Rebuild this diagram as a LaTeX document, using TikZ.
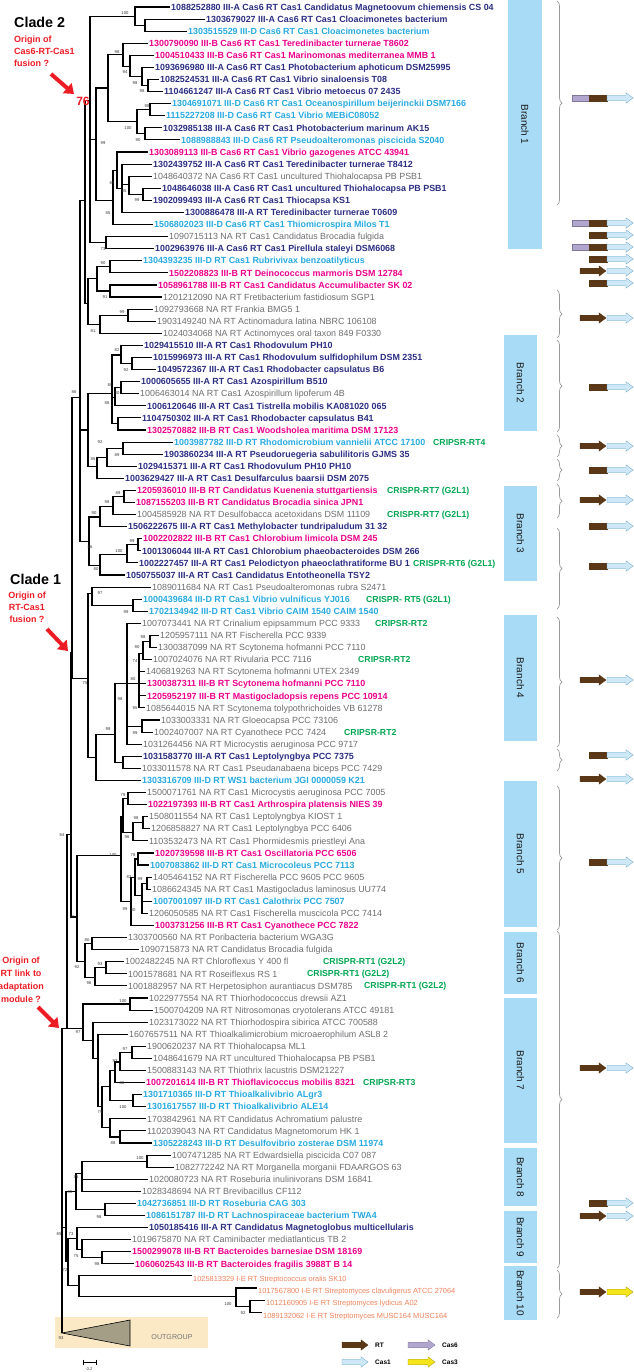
\documentclass[tikz,border=0pt]{standalone}
\usepackage{fontspec}
\setmainfont{Liberation Sans}
\usetikzlibrary{decorations.pathreplacing,arrows.meta}
\definecolor{cA}{HTML}{2B2E83}
\definecolor{cD}{HTML}{27AAE1}
\definecolor{cB}{HTML}{EC008C}
\definecolor{cN}{HTML}{6D6E71}
\definecolor{cE}{HTML}{F0825A}
\definecolor{cG}{HTML}{00A651}
\definecolor{cR}{HTML}{ED1C24}
\definecolor{boxc}{HTML}{A8DBF5}
\definecolor{rtc}{HTML}{5A3716}
\definecolor{csix}{HTML}{B1A7CE}
\definecolor{csixe}{HTML}{7E7699}
\definecolor{cone}{HTML}{CFE8F7}
\definecolor{conee}{HTML}{6FA8CC}
\definecolor{cthree}{HTML}{F5E51B}
\definecolor{cthreee}{HTML}{A89A10}
\definecolor{ogb}{HTML}{FBE9C6}
\definecolor{ogt}{HTML}{A49E86}
\newcounter{bootc}
\newcommand\Leaf[4]{\coordinate (L#1) at ({#2-1.5},{7+(#1-1)*12.085});\node[#3] (T#1) at (L#1) {#4};}
\newcommand\Inode[3]{\coordinate (#1) at (#2,{7+(#3-1)*12.085});}
\newcommand\Edges[2]{\foreach \kid in {#2}{\draw[br] (#1) |- (\kid);}}
\newcommand\Boot[3]{\stepcounter{bootc}\node[bs] (bs\arabic{bootc}) at (#1,#2) {#3};}
\newcommand\Green[3]{\node[lG] (G#1) at (#2,{7+(#1-1)*12.085}) {#3};}
\newcommand\GArr[5]{\filldraw[fill=#4,draw=#5,line width=0.35pt] (#1,#3-2.8) -- (#2-7,#3-2.8) -- (#2-7,#3-5.2) -- (#2,#3) -- (#2-7,#3+5.2) -- (#2-7,#3+2.8) -- (#1,#3+2.8) -- cycle;}
\newcommand\GBar[5]{\filldraw[fill=#4,draw=#5,line width=0.35pt] (#1,#3-2.8) rectangle (#2,#3+2.8);}
\newcommand\RowSix[1]{\GBar{572}{589}{#1}{csix}{csixe}\GBar{589}{607}{#1}{rtc}{rtc}\GArr{607}{633}{#1}{cone}{conee}}
\newcommand\RowF[1]{\GBar{589}{607}{#1}{rtc}{rtc}\GArr{607}{633}{#1}{cone}{conee}}
\newcommand\RowS[1]{\GArr{580}{606}{#1}{rtc}{rtc}\GArr{607}{633}{#1}{cone}{conee}}
\newcommand\Brace[2]{\draw[brc] (557,#1) -- (557,#2);}
\newcommand\BBox[5]{\fill[boxc] (#1,#2) rectangle (#3,#4);\node[brl] (brl#5) at ({(#1+#3)/2},{(#2+#4)/2}) {Branch #5};}
\begin{document}
\begin{tikzpicture}[x=1pt,y=-1pt,
  br/.style={line width=1.1pt},
  lab/.style={anchor=base west,inner sep=0pt,xshift=1.5pt,yshift=-3.2pt,font=\fontsize{8.9}{10}\selectfont},
  lA/.style={lab,text=cA,font=\fontsize{8.9}{10}\selectfont\bfseries},
  lD/.style={lab,text=cD,font=\fontsize{8.9}{10}\selectfont\bfseries},
  lB/.style={lab,text=cB,font=\fontsize{8.9}{10}\selectfont\bfseries},
  lN/.style={lab,text=cN},
  lE/.style={lab,text=cE,yshift=-2.65pt,font=\fontsize{7.4}{9}\selectfont},
  lG/.style={anchor=base west,inner sep=0pt,yshift=-3.1pt,text=cG,font=\fontsize{8.7}{10}\selectfont\bfseries},
  bs/.style={inner sep=0pt,font=\fontsize{4.2}{5}\selectfont,text=black!80},
  brc/.style={draw=black!40,line width=0.7pt,decorate,decoration={brace,amplitude=5pt}},
  brl/.style={rotate=-90,inner sep=0pt,text=black!90,font=\fontsize{10}{12}\selectfont},
  redt/.style={text=cR,font=\fontsize{9}{12}\selectfont\bfseries,inner sep=0pt},
  redar/.style={cR,line width=4pt,-{Triangle[length=9pt,width=13pt]}},
  legt/.style={anchor=west,inner sep=0pt,font=\fontsize{6.5}{8}\selectfont\bfseries}
]
\useasboundingbox (0,0) rectangle (633,1372);

% ---------------- right column: branch boxes, braces, gene arrows
\BBox{508}{0}{542}{249}{1}
\BBox{504}{335}{537}{431}{2}
\BBox{504}{486}{537}{581}{3}
\BBox{504}{615}{537}{741}{4}
\BBox{504}{781}{537}{927}{5}
\BBox{504}{932}{537}{994}{6}
\BBox{504}{998}{537}{1143}{7}
\BBox{504}{1148}{537}{1206}{8}
\BBox{504}{1211}{537}{1263}{9}
\BBox{504}{1266}{537}{1320}{10}

\Brace{1}{205}
\Brace{290}{338}
\Brace{340}{432}
\Brace{435}{457}
\Brace{459}{481}
\Brace{484}{518}
\Brace{528}{609}
\Brace{617}{747}
\Brace{749}{771}
\Brace{786}{930}
\Brace{931}{1268}
\Brace{1270}{1318}

\RowSix{98}
\RowSix{223}
\RowF{235}
\RowSix{247}
\RowF{259}
\RowS{271}
\RowF{283}
\RowS{318}
\RowF{387}
\RowS{446}
\RowF{470}
\RowS{500}
\RowF{526}
\RowF{566}
\RowS{680}
\RowF{755}
\RowS{779}
\RowF{862}
\RowS{1068}
\RowF{1203}
\RowS{1216}
\GArr{580}{606}{1292}{rtc}{rtc}\GArr{607}{633}{1292}{cthree}{cthreee}

% ---------------- leaves
\Leaf{1}{171}{lA}{1088252880 III-A Cas6 RT Cas1 Candidatus Magnetoovum chiemensis CS 04}
\Leaf{2}{206}{lA}{1303679027 III-A Cas6 RT Cas1 Cloacimonetes bacterium}
\Leaf{3}{188}{lD}{1303515529 III-D Cas6 RT Cas1 Cloacimonetes bacterium}
\Leaf{4}{149}{lB}{1300790090 III-B Cas6 RT Cas1 Teredinibacter turnerae T8602}
\Leaf{5}{155}{lB}{1004510433 III-B Cas6 RT Cas1 Marinomonas mediterranea MMB 1}
\Leaf{6}{155}{lA}{1093696980 III-A Cas6 RT Cas1 Photobacterium aphoticum DSM25995}
\Leaf{7}{160}{lA}{1082524531 III-A Cas6 RT Cas1 Vibrio sinaloensis T08}
\Leaf{8}{164}{lA}{1104661247 III-A Cas6 RT Cas1 Vibrio metoecus 07 2435}
\Leaf{9}{172}{lD}{1304691071 III-D Cas6 RT Cas1 Oceanospirillum beijerinckii DSM7166}
\Leaf{10}{166}{lD}{1115227208 III-D Cas6 RT Cas1 Vibrio MEBiC08052}
\Leaf{11}{163}{lA}{1032985138 III-A Cas6 RT Cas1 Photobacterium marinum AK15}
\Leaf{12}{181}{lD}{1088988843 III-D Cas6 RT Pseudoalteromonas piscicida S2040}
\Leaf{13}{149}{lB}{1303089113 III-B Cas6 RT Cas1 Vibrio gazogenes ATCC 43941}
\Leaf{14}{153}{lA}{1302439752 III-A Cas6 RT Cas1 Teredinibacter turnerae T8412}
\Leaf{15}{153}{lN}{1048640372 NA Cas6 RT Cas1 uncultured Thiohalocapsa PB PSB1}
\Leaf{16}{162}{lA}{1048646038 III-A Cas6 RT Cas1 uncultured Thiohalocapsa PB PSB1}
\Leaf{17}{153}{lA}{1902099493 III-A Cas6 RT Cas1 Thiocapsa KS1}
\Leaf{18}{185}{lA}{1300886478 III-A RT Teredinibacter turnerae T0609}
\Leaf{19}{154}{lD}{1506802023 III-D Cas6 RT Cas1 Thiomicrospira Milos T1}
\Leaf{20}{169}{lN}{1090715113 NA RT Cas1 Candidatus Brocadia fulgida}
\Leaf{21}{155}{lA}{1002963976 III-A Cas6 RT Cas1 Pirellula staleyi DSM6068}
\Leaf{22}{143}{lD}{1304393235 III-D RT Cas1 Rubrivivax benzoatilyticus}
\Leaf{23}{169}{lB}{1502208823 III-B RT Deinococcus marmoris DSM 12784}
\Leaf{24}{158}{lB}{1058961788 III-B RT Cas1 Candidatus Accumulibacter SK 02}
\Leaf{25}{163}{lN}{1201212090 NA RT Fretibacterium fastidiosum SGP1}
\Leaf{26}{154}{lN}{1092793668 NA RT Frankia BMG5 1}
\Leaf{27}{157}{lN}{1903149240 NA RT Actinomadura latina NBRC 106108}
\Leaf{28}{163}{lN}{1024034068 NA RT Actinomyces oral taxon 849 F0330}
\Leaf{29}{144}{lA}{1029415510 III-A RT Cas1 Rhodovulum PH10}
\Leaf{30}{153}{lA}{1015996973 III-A RT Cas1 Rhodovulum sulfidophilum DSM 2351}
\Leaf{31}{157}{lA}{1049572367 III-A RT Cas1 Rhodobacter capsulatus B6}
\Leaf{32}{141}{lA}{1000605655 III-A RT Cas1 Azospirillum B510}
\Leaf{33}{140}{lN}{1006463014 NA RT Cas1 Azospirillum lipoferum 4B}
\Leaf{34}{147}{lA}{1006120646 III-A RT Cas1 Tistrella mobilis KA081020 065}
\Leaf{35}{142}{lA}{1104750302 III-A RT Cas1 Rhodobacter capsulatus B41}
\Leaf{36}{147}{lB}{1302570882 III-B RT Cas1 Woodsholea maritima DSM 17123}
\Leaf{37}{174}{lD}{1003987782 III-D RT Rhodomicrobium vannielii ATCC 17100}
\Leaf{38}{164}{lA}{1903860234 III-A RT Pseudoruegeria sabulilitoris GJMS 35}
\Leaf{39}{138}{lA}{1029415371 III-A RT Cas1 Rhodovulum PH10 PH10}
\Leaf{40}{125}{lA}{1003629427 III-A RT Cas1 Desulfarculus baarsii DSM 2075}
\Leaf{41}{137}{lB}{1205936010 III-B RT Candidatus Kuenenia stuttgartiensis}
\Leaf{42}{136}{lB}{1087155203 III-B RT Candidatus Brocadia sinica JPN1}
\Leaf{43}{137}{lN}{1004585928 NA RT Desulfobacca acetoxidans DSM 11109}
\Leaf{44}{128}{lA}{1506222675 III-A RT Cas1 Methylobacter tundripaludum 31 32}
\Leaf{45}{143}{lB}{1002202822 III-B RT Cas1 Chlorobium limicola DSM 245}
\Leaf{46}{142}{lA}{1001306044 III-A RT Cas1 Chlorobium phaeobacteroides DSM 266}
\Leaf{47}{139}{lA}{1002227457 III-A RT Cas1 Pelodictyon phaeoclathratiforme BU 1}
\Leaf{48}{126}{lA}{1050755037 III-A RT Cas1 Candidatus Entotheonella TSY2}
\Leaf{49}{152}{lN}{1089011684 NA RT Cas1 Pseudoalteromonas rubra S2471}
\Leaf{50}{143}{lD}{1000439684 III-D RT Cas1 Vibrio vulnificus YJ016}
\Leaf{51}{149}{lD}{1702134942 III-D RT Cas1 Vibrio CAIM 1540 CAIM 1540}
\Leaf{52}{142}{lN}{1007073441 NA RT Crinalium epipsammum PCC 9333}
\Leaf{53}{160}{lN}{1205957111 NA RT Fischerella PCC 9339}
\Leaf{54}{158}{lN}{1300387099 NA RT Scytonema hofmanni PCC 7110}
\Leaf{55}{153}{lN}{1007024076 NA RT Rivularia PCC 7116}
\Leaf{56}{146}{lN}{1406819263 NA RT Scytonema hofmanni UTEX 2349}
\Leaf{57}{147}{lB}{1300387311 III-B RT Scytonema hofmanni PCC 7110}
\Leaf{58}{147}{lB}{1205952197 III-B RT Mastigocladopsis repens PCC 10914}
\Leaf{59}{146}{lN}{1085644015 NA RT Scytonema tolypothrichoides VB 61278}
\Leaf{60}{161}{lN}{1033003331 NA RT Gloeocapsa PCC 73106}
\Leaf{61}{154}{lN}{1002407007 NA RT Cyanothece PCC 7424}
\Leaf{62}{143}{lN}{1031264456 NA RT Microcystis aeruginosa PCC 9717}
\Leaf{63}{143}{lA}{1031583770 III-A RT Cas1 Leptolyngbya PCC 7375}
\Leaf{64}{142}{lN}{1033011578 NA RT Cas1 Pseudanabaena biceps PCC 7429}
\Leaf{65}{142}{lD}{1303316709 III-D RT WS1 bacterium JGI 0000059 K21}
\Leaf{66}{147}{lN}{1500071761 NA RT Cas1 Microcystis aeruginosa PCC 7005}
\Leaf{67}{148}{lB}{1022197393 III-B RT Cas1 Arthrospira platensis NIES 39}
\Leaf{68}{149}{lN}{1508011554 NA RT Cas1 Leptolyngbya KIOST 1}
\Leaf{69}{151}{lN}{1206858827 NA RT Cas1 Leptolyngbya PCC 6406}
\Leaf{70}{149}{lN}{1103532473 NA RT Cas1 Phormidesmis priestleyi Ana}
\Leaf{71}{155}{lB}{1020739598 III-B RT Cas1 Oscillatoria PCC 6506}
\Leaf{72}{150}{lD}{1007083862 III-D RT Cas1 Microcoleus PCC 7113}
\Leaf{73}{153}{lN}{1405464152 NA RT Fischerella PCC 9605 PCC 9605}
\Leaf{74}{152}{lN}{1086624345 NA RT Cas1 Mastigocladus laminosus UU774}
\Leaf{75}{153}{lD}{1007001097 III-D RT Cas1 Calothrix PCC 7507}
\Leaf{76}{149}{lN}{1206050585 NA RT Cas1 Fischerella muscicola PCC 7414}
\Leaf{77}{155}{lB}{1003731256 III-B RT Cas1 Cyanothece PCC 7822}
\Leaf{78}{128}{lN}{1303700560 NA RT Poribacteria bacterium WGA3G}
\Leaf{79}{140}{lN}{1090715873 NA RT Candidatus Brocadia fulgida}
\Leaf{80}{125}{lN}{1002482245 NA RT Chloroflexus Y 400 fl}
\Leaf{81}{128}{lN}{1001578681 NA RT Roseiflexus RS 1}
\Leaf{82}{128}{lN}{1001882957 NA RT Herpetosiphon aurantiacus DSM785}
\Leaf{83}{149}{lN}{1022977554 NA RT Thiorhodococcus drewsii AZ1}
\Leaf{84}{154}{lN}{1500704209 NA RT Nitrosomonas cryotolerans ATCC 49181}
\Leaf{85}{149}{lN}{1023173022 NA RT Thiorhodospira sibirica ATCC 700588}
\Leaf{86}{129}{lN}{1607657511 NA RT Thioalkalimicrobium microaerophilum ASL8 2}
\Leaf{87}{147}{lN}{1900620237 NA RT Thiohalocapsa ML1}
\Leaf{88}{153}{lN}{1048641679 NA RT uncultured Thiohalocapsa PB PSB1}
\Leaf{89}{147}{lN}{1500883143 NA RT Thiothrix lacustris DSM21227}
\Leaf{90}{146}{lB}{1007201614 III-B RT Thioflavicoccus mobilis 8321}
\Leaf{91}{143}{lD}{1301710365 III-D RT Thioalkalivibrio ALgr3}
\Leaf{92}{147}{lD}{1301617557 III-D RT Thioalkalivibrio ALE14}
\Leaf{93}{147}{lN}{1703842961 NA RT Candidatus Achromatium palustre}
\Leaf{94}{147}{lN}{1102039043 NA RT Candidatus Magnetomorum HK 1}
\Leaf{95}{153}{lD}{1305228243 III-D RT Desulfovibrio zosterae DSM 11974}
\Leaf{96}{172}{lN}{1007471285 NA RT Edwardsiella piscicida C07 087}
\Leaf{97}{175}{lN}{1082772242 NA RT Morganella morganii FDAARGOS 63}
\Leaf{98}{149}{lN}{1020080723 NA RT Roseburia inulinivorans DSM 16841}
\Leaf{99}{142}{lN}{1028348694 NA RT Brevibacillus CF112}
\Leaf{100}{137}{lD}{1042736851 III-D RT Roseburia CAG 303}
\Leaf{101}{146}{lD}{1086151787 III-D RT Lachnospiraceae bacterium TWA4}
\Leaf{102}{149}{lA}{1050185416 III-A RT Candidatus Magnetoglobus multicellularis}
\Leaf{103}{132}{lN}{1019675870 NA RT Caminibacter mediatlanticus TB 2}
\Leaf{104}{132}{lB}{1500299078 III-B RT Bacteroides barnesiae DSM 18169}
\Leaf{105}{135}{lB}{1060602543 III-B RT Bacteroides fragilis 3988T B 14}
\Leaf{106}{193}{lE}{1025813329 I-E RT Streptococcus oralis SK10}
\Leaf{107}{258}{lE}{1017567800 I-E RT Streptomyces clavuligerus ATCC 27064}
\Leaf{108}{266}{lE}{1012160905 I-E RT Streptomyces lydicus A02}
\Leaf{109}{263}{lE}{1089132062 I-E RT Streptomyces MUSC164 MUSC164}

\Green{37}{433}{CRIPSR-RT4}
\Green{41}{387}{CRISPR-RT7 (G2L1)}
\Green{43}{387}{CRISPR-RT7 (G2L1)}
\Green{47}{413}{CRISPR-RT6 (G2L1)}
\Green{50}{366}{CRISPR- RT5 (G2L1)}
\Green{52}{375}{CRIPSR-RT2}
\Green{55}{358}{CRIPSR-RT2}
\Green{61}{344}{CRIPSR-RT2}
\Green{80}{323}{CRISPR-RT1 (G2L2)}
\Green{81}{307}{CRISPR-RT1 (G2L2)}
\Green{82}{364}{CRISPR-RT1 (G2L2)}
\Green{90}{363}{CRIPSR-RT3}

% ---------------- tree: clade 2
\Inode{a}{145}{2.5} \Edges{a}{L2,L3}
\Inode{b}{135}{1.75} \Edges{b}{L1,a}
\Inode{c}{148}{7.5} \Edges{c}{L7,L8}
\Inode{d}{142}{6.75} \Edges{d}{L6,c}
\Inode{e}{130}{5.9} \Edges{e}{L5,d}
\Inode{f}{123}{4.9} \Edges{f}{L4,e}
\Inode{g}{150}{9.5} \Edges{g}{L9,L10}
\Inode{h}{145}{11.5} \Edges{h}{L11,L12}
\Inode{i}{137}{10.5} \Edges{i}{g,h}
\Inode{j}{108}{7.7} \Edges{j}{f,i}
\Inode{l}{143}{16.5} \Edges{l}{L16,L17}
\Inode{m}{129}{15.7} \Edges{m}{L15,l}
\Inode{n}{122}{16} \Edges{n}{L14,m,L18}
\Inode{p}{117}{14.5} \Edges{p}{L13,n}
\Inode{q}{113}{17} \Edges{q}{p,L19}
\Inode{r}{96}{12} \Edges{r}{j,q}
\Inode{s}{106}{20.5} \Edges{s}{L20,L21}
\Inode{C2}{90}{8.7} \Edges{C2}{b,r,s}
% leaves 22-28
\Inode{v}{110}{22.5} \Edges{v}{L22,L23}
\Inode{w}{110}{24.5} \Edges{w}{L24,L25}
\Inode{x1}{97}{23.5} \Edges{x1}{v,w}
\Inode{y1}{128}{26.5} \Edges{y1}{L26,L27}
\Inode{z1}{100}{27.3} \Edges{z1}{y1,L28}
\Inode{aa}{88}{25.5} \Edges{aa}{x1,z1}
\Inode{K1}{85}{17} \Edges{K1}{C2,aa}
% leaves 29-40
\Inode{ff}{132}{30.5} \Edges{ff}{L30,L31}
\Inode{gg}{121}{29.8} \Edges{gg}{L29,ff}
\Inode{hh}{121}{32.5} \Edges{hh}{L32,L33}
\Inode{ii}{115}{33.3} \Edges{ii}{hh,L34}
\Inode{jj}{118}{35.5} \Edges{jj}{L35,L36}
\Inode{kk}{112}{33} \Edges{kk}{gg,ii,jj}
\Inode{cc}{123}{37.5} \Edges{cc}{L37,L38}
\Inode{dd}{107}{38.3} \Edges{dd}{cc,L39}
\Inode{ee}{97}{39} \Edges{ee}{dd,L40}
\Inode{ll}{88}{36} \Edges{ll}{kk,ee}
% leaves 41-48
\Inode{mm}{124}{41.5} \Edges{mm}{L41,L42}
\Inode{nn}{113}{42.3} \Edges{nn}{mm,L43}
\Inode{oo}{100}{43.2} \Edges{oo}{nn,L44}
\Inode{pp}{138}{45.5} \Edges{pp}{L45,L46}
\Inode{qq}{127}{46.3} \Edges{qq}{pp,L47}
\Inode{rr}{100}{47.2} \Edges{rr}{qq,L48}
\Inode{ss}{89}{45.2} \Edges{ss}{oo,rr}
% leaves 49-51
\Inode{tt}{133}{50.5} \Edges{tt}{L50,L51}
\Inode{vv}{92}{49.5} \Edges{vv}{L49,tt}
% cyano 52-65
\Inode{ww}{150}{53.5} \Edges{ww}{L53,L54}
\Inode{xx}{143}{54.5} \Edges{xx}{ww,L55}
\Inode{yy}{139}{57} \Edges{yy}{xx,L56,L57,L58,L59}
\Inode{ab}{142}{60.5} \Edges{ab}{L60,L61}
\Inode{zz}{127}{57} \Edges{zz}{L52,yy,ab,L62}
\Inode{ad}{123}{63.5} \Edges{ad}{L63,L64}
\Inode{ae}{115}{61.2} \Edges{ae}{zz,ad}
\Inode{af}{96}{63.1} \Edges{af}{ae,L65}
\Inode{ag}{88}{56.6} \Edges{ag}{vv,af}
\Inode{K2}{80}{33.3} \Edges{K2}{K1,ll,ss}
\Inode{X3}{72}{54.4} \Edges{X3}{K2,ag}
% cyano 66-77
\Inode{ba}{128}{66.5} \Edges{ba}{L66,L67}
\Inode{bb}{143}{68.5} \Edges{bb}{L68,L69}
\Inode{bc}{133}{69.3} \Edges{bc}{bb,L70}
\Inode{bd}{123}{68} \Edges{bd}{ba,bc}
\Inode{be}{138}{71.5} \Edges{be}{L71,L72}
\Inode{bf}{147}{73.5} \Edges{bf}{L73,L74}
\Inode{bg}{142}{74.5} \Edges{bg}{bf,L75,L76}
\Inode{bi}{135}{73} \Edges{bi}{be,bg}
\Inode{bj}{131}{75} \Edges{bj}{bi,L77}
\Inode{bk}{121}{71.2} \Edges{bk}{bd,bj}
\Inode{bm}{92}{78.5} \Edges{bm}{L78,L79}
\Inode{bn}{106}{80.5} \Edges{bn}{L80,L81}
\Inode{bo}{95}{81.3} \Edges{bo}{bn,L82}
\Inode{bp}{85}{80} \Edges{bp}{bm,bo}
\Inode{bl}{77}{76.3} \Edges{bl}{bk,bp}
\Inode{X2}{71}{69.5} \Edges{X2}{X3,bl}
% thio group
\Inode{ca}{130}{83.5} \Edges{ca}{L83,L84}
\Inode{cd}{132}{87.5} \Edges{cd}{L87,L88}
\Inode{ce}{120}{88.3} \Edges{ce}{cd,L89}
\Inode{cf}{115}{89} \Edges{cf}{ce,L90}
\Inode{cg}{133}{91.5} \Edges{cg}{L91,L92}
\Inode{ch}{110}{90.3} \Edges{ch}{cf,cg}
\Inode{ci}{120}{94.5} \Edges{ci}{L94,L95}
\Inode{cj}{110}{93.7} \Edges{cj}{L93,ci}
\Inode{cl}{102}{92} \Edges{cl}{ch,cj}
\Inode{ck}{98}{88} \Edges{ck}{L86,cl}
\Inode{cc2}{93}{86.5} \Edges{cc2}{L85,ck}
\Inode{cb}{83}{85.5} \Edges{cb}{ca,cc2}
\Inode{X1}{67}{85.5} \Edges{X1}{X2,cb}
% lower groups
\Inode{da}{147}{96.5} \Edges{da}{L96,L97}
\Inode{db}{82}{97.5} \Edges{db}{da,L98,L99}
\Inode{dc}{105}{100.5} \Edges{dc}{L100,L101}
\Inode{dd2}{76}{99} \Edges{dd2}{db,dc}
\Inode{de}{102}{104.5} \Edges{de}{L104,L105}
\Inode{df}{82}{103.8} \Edges{df}{L103,de}
\Inode{dg}{77}{102.9} \Edges{dg}{L102,df}
\Inode{dh}{250}{108.5} \Edges{dh}{L108,L109}
\Inode{di}{236}{107.7} \Edges{di}{L107,dh}
\Inode{dj}{79}{106.8} \Edges{dj}{L106,di}
\Inode{dk}{68}{104.8} \Edges{dk}{dg,dj}
\Inode{dl}{66}{102} \Edges{dl}{dd2,dk}
% outgroup and root
\fill[ogb] (55,1317) rectangle (208,1348);
\coordinate (OG) at (62,1333);
\coordinate (ogA) at (130,1320);
\coordinate (ogB) at (130,1346);
\filldraw[fill=ogt,draw=black,line width=0.6pt] (OG) -- (ogA) -- (ogB) -- cycle;
\node[inner sep=0pt,text=black!55,font=\fontsize{7.1}{8}\selectfont] (ogl) at (172,1337) {OUTGROUP};
\Inode{R}{62}{85.5} \Edges{R}{X1,dl,OG}
\draw[line width=2.2pt] (R) -- (OG);

% ---------------- bootstrap values
\Boot{125}{13}{100}\Boot{117}{52}{98}\Boot{125}{72}{94}\Boot{135}{83}{98}\Boot{142}{91}{98}
\Boot{147}{106}{98}\Boot{128}{128}{100}\Boot{138}{140}{90}\Boot{103}{143}{99}\Boot{112}{183}{89}
\Boot{124}{191}{85}\Boot{137}{200}{99}\Boot{108}{213}{85}\Boot{103}{249}{73}\Boot{103}{263}{90}
\Boot{105}{297}{91}\Boot{122}{312}{99}\Boot{93}{331}{81}\Boot{117}{350}{82}\Boot{126}{370}{92}
\Boot{110}{385}{80}\Boot{117}{393}{80}\Boot{107}{403}{88}\Boot{74}{392}{86}\Boot{100}{442}{92}
\Boot{117}{455}{89}\Boot{93}{459}{85}\Boot{118}{493}{89}\Boot{107}{502}{98}\Boot{94}{513}{90}
\Boot{132}{541}{99}\Boot{119}{551}{100}\Boot{96}{569}{80}\Boot{90}{547}{86}\Boot{100}{593}{97}
\Boot{126}{612}{99}\Boot{143}{637}{98}\Boot{137}{647}{90}\Boot{135}{661}{74}\Boot{133}{679}{80}
\Boot{135}{708}{95}\Boot{120}{699}{98}\Boot{85}{683}{75}\Boot{135}{733}{99}\Boot{108}{729}{99}
\Boot{62}{835}{84}\Boot{123}{795}{79}\Boot{136}{818}{98}\Boot{127}{837}{96}\Boot{113}{855}{100}
\Boot{133}{855}{78}\Boot{129}{877}{82}\Boot{140}{879}{99}\Boot{125}{909}{89}\Boot{133}{910}{80}
\Boot{72}{917}{73}\Boot{87}{940}{80}\Boot{100}{964}{93}\Boot{77}{967}{92}\Boot{89}{983}{96}
\Boot{123}{1001}{100}\Boot{78}{1032}{97}\Boot{125}{1049}{97}\Boot{115}{1061}{93}\Boot{122}{1083}{86}
\Boot{123}{1107}{100}\Boot{100}{1112}{79}\Boot{113}{1143}{88}\Boot{140}{1158}{100}\Boot{76}{1177}{75}
\Boot{70}{1192}{85}\Boot{99}{1217}{98}\Boot{71}{1234}{73}\Boot{59}{1234}{85}\Boot{76}{1256}{75}
\Boot{97}{1264}{98}\Boot{65}{1270}{72}\Boot{228}{1304}{100}\Boot{243}{1313}{92}\Boot{61}{1338}{93}

% ---------------- clade annotations
\node[anchor=west,inner sep=0pt,font=\fontsize{14.3}{16}\selectfont\bfseries] (cl2) at (14,22) {Clade 2};
\node[redt,anchor=north west,align=left] (or2) at (14,35.5) {Origin of\\Cas6-RT-Cas1\\fusion ?};
\coordinate (a2s) at (51,74); \coordinate (a2e) at (74,94);
\draw[redar] (a2s) -- (a2e);
\node[text=cR,inner sep=0pt,font=\fontsize{12}{14}\selectfont\bfseries] (n76) at (83,101) {76};

\node[anchor=west,inner sep=0pt,font=\fontsize{14.3}{16}\selectfont\bfseries] (cl1) at (10,579) {Clade 1};
\node[redt,anchor=north,align=center] (or1) at (27,592) {Origin of\\RT-Cas1\\fusion ?};
\coordinate (a1s) at (47,629); \coordinate (a1e) at (68,651);
\draw[redar] (a1s) -- (a1e);

\node[redt,anchor=north,align=center,font=\fontsize{9}{13}\selectfont\bfseries] (or0) at (21,957) {Origin of\\RT link to\\adaptation\\module ?};
\coordinate (a0s) at (38,1007); \coordinate (a0e) at (59,1028);
\draw[redar] (a0s) -- (a0e);

% ---------------- scale bar
\coordinate (sb1) at (83,1362); \coordinate (sb2) at (96,1362);
\draw[line width=0.8pt] (sb1) -- (sb2);
\draw[line width=0.8pt] (83,1359.5) -- (83,1364.5) (96,1359.5) -- (96,1364.5);
\node[bs] (sbl) at (89.5,1369) {0.2};

% ---------------- legend
\GArr{342}{368}{1345}{rtc}{rtc}
\node[legt] (lgRT) at (375,1345) {RT};
\GArr{408}{435}{1345}{csix}{csixe}
\node[legt] (lgC6) at (442,1345) {Cas6};
\GArr{342}{368}{1362}{cone}{conee}
\node[legt] (lgC1) at (375,1362) {Cas1};
\GArr{408}{435}{1362}{cthree}{cthreee}
\node[legt] (lgC3) at (442,1362) {Cas3};
\end{tikzpicture}
\end{document}
